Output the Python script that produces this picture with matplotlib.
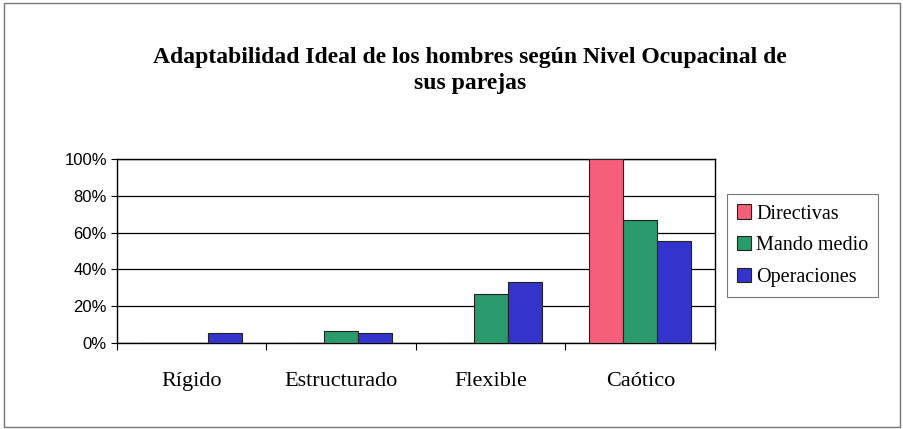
import matplotlib.pyplot as plt
import numpy as np
from matplotlib.patches import Rectangle

categorias = ['Rígido', 'Estructurado', 'Flexible', 'Caótico']
series = ['Directivas', 'Mando medio', 'Operaciones']
directivas = [0, 0, 0, 100]
mando_medio = [0, 6.7, 26.7, 66.7]
operaciones = [5.6, 5.6, 33.3, 55.6]
colores = ['#F4607A', '#2A9A6C', '#3434CC']

fig = plt.figure(figsize=(9.04, 4.29), dpi=100)
fig.patches.append(Rectangle((0.004, 0.004), 0.992, 0.99, transform=fig.transFigure,
                             fill=False, edgecolor='#777777', linewidth=1.0))
ax = fig.add_axes([0.129, 0.2005, 0.662, 0.4289])

x = np.arange(len(categorias))
w = 0.227
for i, (vals, nombre) in enumerate(zip([directivas, mando_medio, operaciones], series)):
    ax.bar(x + (i - 1) * w, vals, width=w, color=colores[i], edgecolor='#222222',
           linewidth=0.8, label=nombre, zorder=3)

ax.set_xlim(-0.5, 3.5)
ax.set_ylim(0, 100)
ax.set_yticks(range(0, 101, 20))
ax.set_yticklabels([f'{v}%' for v in range(0, 101, 20)], family='Liberation Sans', fontsize=12)
ax.yaxis.grid(True, color='black', linewidth=0.9, zorder=1)
ax.set_xticks(x)
ax.set_xticklabels(categorias, family='Liberation Serif', fontsize=16)
ax.set_xticks(np.arange(-0.5, 4, 1), minor=True)
ax.tick_params(axis='x', which='major', length=0, pad=21)
ax.tick_params(axis='x', which='minor', length=5, direction='out', width=0.8)
ax.tick_params(axis='y', length=4, width=0.8, pad=3)
for s in ax.spines.values():
    s.set_linewidth(1.0)
    s.set_color('black')

fig.text(0.52, 0.835, 'Adaptabilidad Ideal de los hombres según Nivel Ocupacinal de\nsus parejas',
         ha='center', va='center', family='Liberation Serif', fontweight='bold',
         fontsize=17, linespacing=1.3)

leg = fig.legend(loc='upper left', bbox_to_anchor=(0.804, 0.547), borderaxespad=0,
                 prop={'family': 'Liberation Serif', 'size': 14.5},
                 frameon=True, fancybox=False, edgecolor='#555555', handlelength=0.7,
                 handleheight=0.7, handletextpad=0.25, labelspacing=0.62, borderpad=0.5)
leg.get_frame().set_linewidth(0.8)

fig.savefig('out.png', dpi=100)
